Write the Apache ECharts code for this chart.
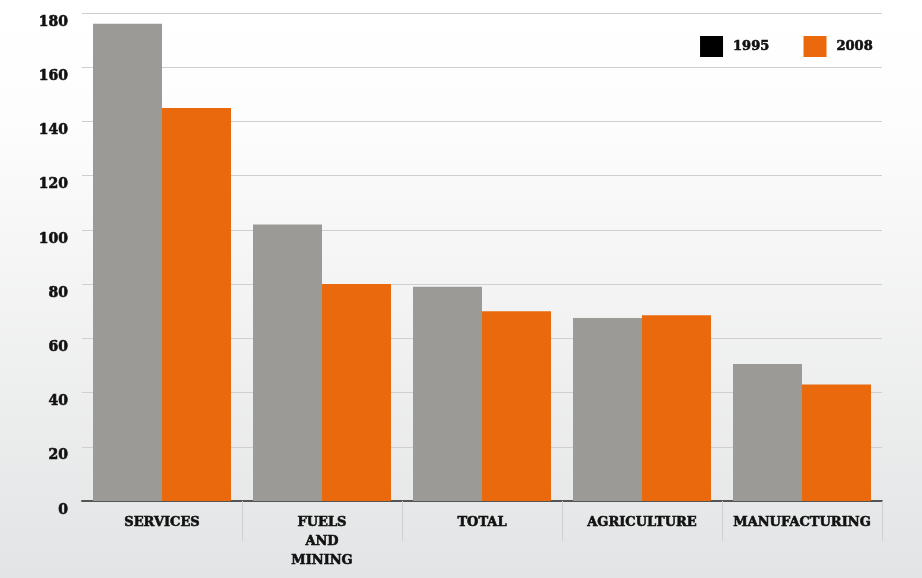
<!DOCTYPE html>
<html>
<head>
<meta charset="utf-8">
<script src="https://cdn.jsdelivr.net/npm/echarts@6/dist/echarts.min.js"></script>
<style>
  html, body { margin: 0; padding: 0; }
  #chart { width: 922px; height: 578px; }
</style>
</head>
<body>
<div id="chart"></div>
<script>
var categories = ['SERVICES', 'FUELS\nAND\nMINING', 'TOTAL', 'AGRICULTURE', 'MANUFACTURING'];
var values1995 = [176, 102, 79, 67.5, 50.5];
var values2008 = [145, 80, 70, 68.5, 43];
var yTicks = { min: 0, max: 180, interval: 20 };

var labelFont = '"DejaVu Serif", serif';
// heavy slab look: thicken glyphs a little with a same-colour outline
var heavy = { fontFamily: labelFont, fontWeight: 'bold', color: '#111', textBorderColor: '#111', textBorderWidth: 0.6 };

var chart = echarts.init(document.getElementById('chart'));
chart.setOption({
  backgroundColor: new echarts.graphic.LinearGradient(0, 0, 0, 1, [
    { offset: 0, color: '#ffffff' },
    { offset: 0.2, color: '#fdfdfd' },
    { offset: 1, color: '#e3e4e5' }
  ]),
  animation: false,
  legend: {
    top: 31,
    right: 44,
    icon: 'rect',
    itemWidth: 23,
    itemHeight: 21,
    itemGap: 34,
    textStyle: Object.assign({ fontSize: 13, padding: [0, 0, 0, 5] }, heavy),
    data: [
      { name: '1995', itemStyle: { color: '#000000' } },
      { name: '2008', itemStyle: { color: '#e9690c' } }
    ]
  },
  grid: { left: 82, right: 40, top: 13, bottom: 77 },
  xAxis: {
    type: 'category',
    data: categories,
    axisLine: { lineStyle: { color: '#555', width: 2 } },
    axisTick: {
      show: true,
      // only the separators between categories, not the outer edges
      interval: function (index) { return index > 0; },
      length: 40,
      lineStyle: { color: '#cfcfcf', width: 1 }
    },
    axisLabel: Object.assign({
      interval: 0,
      margin: 12,
      fontSize: 13,
      lineHeight: 19
    }, heavy)
  },
  yAxis: {
    type: 'value',
    min: yTicks.min, max: yTicks.max, interval: yTicks.interval,
    axisLine: { show: false },
    axisTick: { show: false },
    splitLine: { lineStyle: { color: '#cfcfcf' } },
    axisLabel: Object.assign({
      margin: 14,
      fontSize: 14,
      verticalAlign: 'top',
      padding: [2, 0, 0, 0]
    }, heavy)
  },
  series: [
    {
      name: '1995', type: 'bar', data: values1995,
      itemStyle: { color: '#9c9a97' },
      barGap: '0%', barCategoryGap: '13.75%'
    },
    {
      name: '2008', type: 'bar', data: values2008,
      itemStyle: { color: '#e9690c' },
      barGap: '0%', barCategoryGap: '13.75%'
    }
  ]
});
</script>
</body>
</html>
